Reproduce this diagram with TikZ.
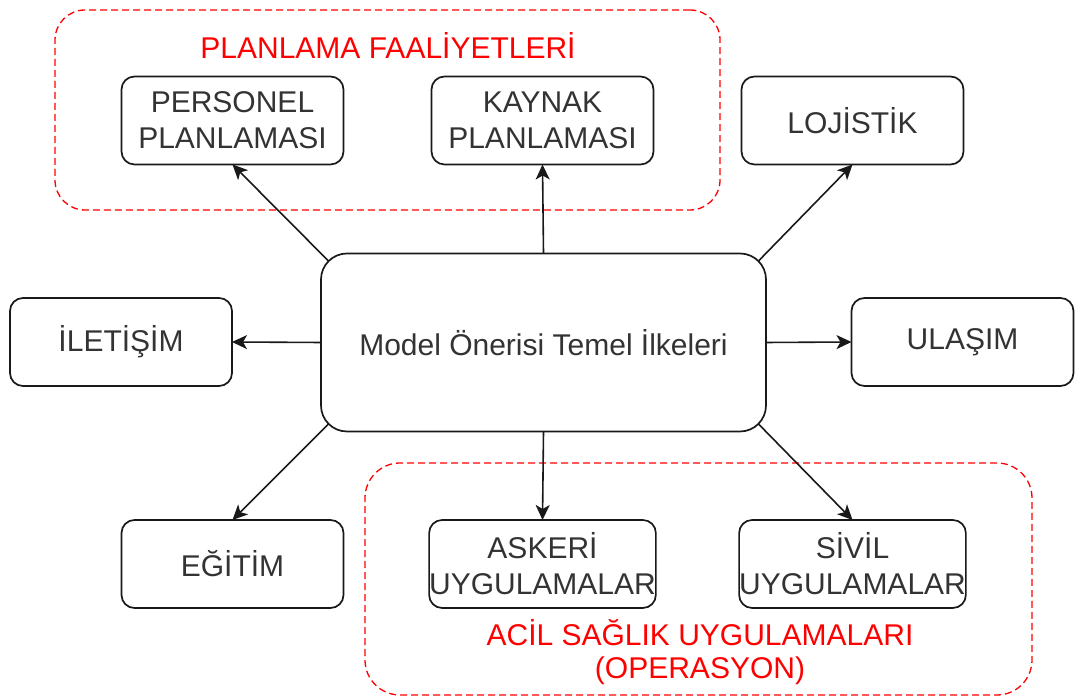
\documentclass[tikz,border=0pt]{standalone}
\usepackage{fontspec}
\setmainfont{Liberation Sans}
\usetikzlibrary{arrows.meta,calc}

\begin{document}
\begin{tikzpicture}[x=1pt,y=1pt,
  box/.style={draw=black!90, line width=1.7pt, rounded corners=13pt,
    minimum width=222pt, minimum height=88pt, inner sep=0pt, outer sep=0pt,
    align=center, text=black!80, font=\fontsize{30}{36}\selectfont},
  hub/.style={box, minimum width=445pt, minimum height=178pt, rounded corners=26pt},
  group/.style={draw=red, dash pattern=on 7pt off 4pt, line width=1.3pt,
    rounded corners=30pt, inner sep=0pt, outer sep=0pt},
  grouplabel/.style={text=red, align=center, font=\fontsize{30}{33}\selectfont},
  link/.style={draw=black!90, line width=1.6pt,
    -{Stealth[length=15pt,width=14pt,inset=4pt]}}
]
\useasboundingbox (0,0) rectangle (1077,700);

% dashed groups
\node[group, minimum width=665pt, minimum height=200pt] (plan) at (387.5,590) {};
\node[group, minimum width=667pt, minimum height=232pt, rounded corners=35pt] (acil) at (698.5,121) {};
\node[grouplabel] (planlbl) at (388,655) {PLANLAMA FAALİYETLERİ};
\node[grouplabel] (acillbl) at (700,48) {ACİL SAĞLIK UYGULAMALARI\\(OPERASYON)};

% central node
\node[hub] (hub) at (543.5,357.5) {Model Önerisi Temel İlkeleri};

% surrounding nodes
\node[box] (pers) at (232.5,579.5) {PERSONEL\\PLANLAMASI};
\node[box] (kayn) at (542.5,579.5) {KAYNAK\\PLANLAMASI};
\node[box] (loj)  at (852.5,579.5) {LOJİSTİK};
\node[box] (ilet) at (121,358) {İLETİŞİM};
\node[box] (ulas) at (962.5,358) {ULAŞIM};
\node[box] (egit) at (232.5,136) {EĞİTİM};
\node[box] (ask)  at (542.5,136) {ASKERİ\\UYGULAMALAR};
\node[box] (siv)  at (852.5,136) {SİVİL\\UYGULAMALAR};

% points on the rounded corners of the central node
\coordinate (hubNW) at ($(hub.north west)+(7.6,-7.6)$);
\coordinate (hubNE) at ($(hub.north east)+(-7.6,-7.6)$);
\coordinate (hubSW) at ($(hub.south west)+(7.6,7.6)$);
\coordinate (hubSE) at ($(hub.south east)+(-7.6,7.6)$);

% connectors
\draw[link] (hubNW) -- (pers.south);
\draw[link] (hub.north) -- (kayn.south);
\draw[link] (hubNE) -- (loj.south);
\draw[link] (hub.west) -- (ilet.east);
\draw[link] (hub.east) -- (ulas.west);
\draw[link] (hubSW) -- (egit.north);
\draw[link] (hub.south) -- (ask.north);
\draw[link] (hubSE) -- (siv.north);
\end{tikzpicture}
\end{document}
